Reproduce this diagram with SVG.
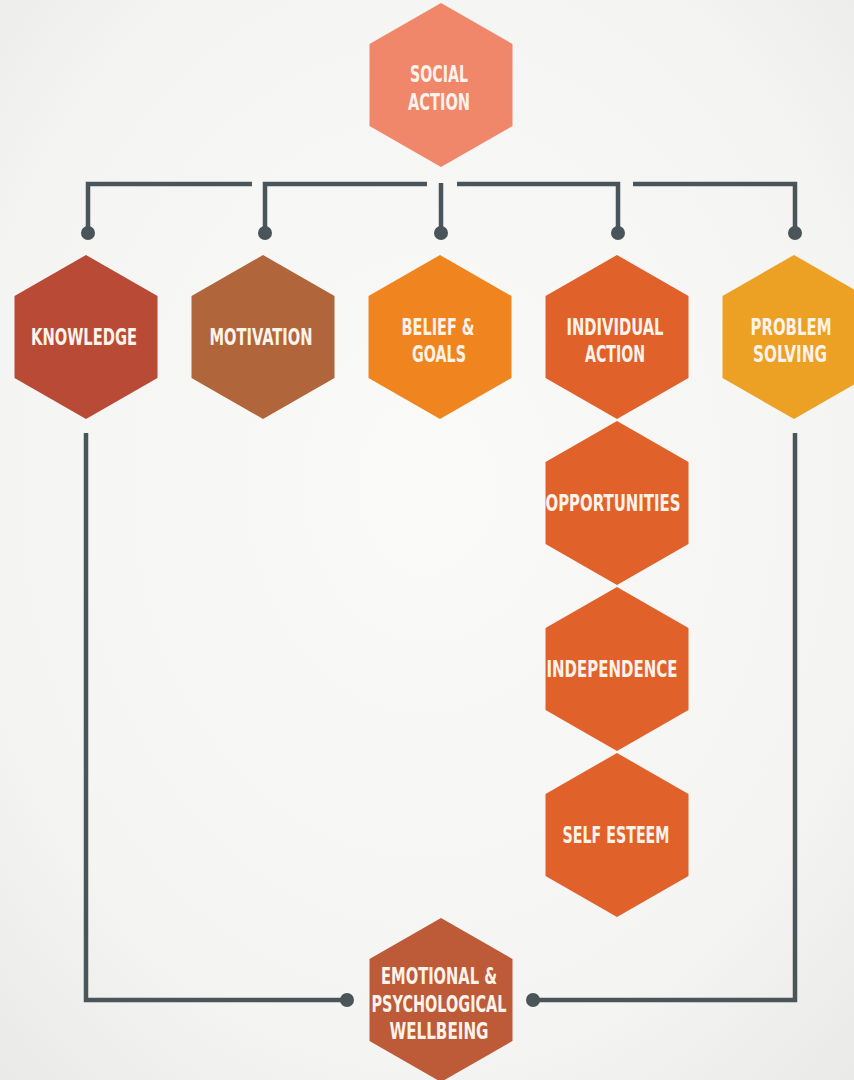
<svg xmlns="http://www.w3.org/2000/svg" xmlns:xlink="http://www.w3.org/1999/xlink" width="854" height="1080" viewBox="0 0 854 1080">
  <defs>
    <radialGradient id="bg" cx="50%" cy="45%" r="75%">
      <stop offset="0" stop-color="#fafaf9"/>
      <stop offset="0.7" stop-color="#f4f4f2"/>
      <stop offset="1" stop-color="#e9e9e7"/>
    </radialGradient>
    <!-- pointy-top hexagon centred on the origin -->
    <polygon id="hex" points="0,-82 71.5,-41 71.5,41 0,82 -71.5,41 -71.5,-41"/>
  </defs>
  <style>
    .lbl { font-family: "Liberation Sans Narrow", "DejaVu Sans Condensed", "Liberation Sans", sans-serif; font-weight: bold; font-size: 23px; fill: #fdf3ea; text-anchor: middle; }
    .wire { fill: none; stroke: #4a5559; stroke-width: 4.5; stroke-linejoin: miter; stroke-linecap: butt; }
    .dot { fill: #4a5559; }
  </style>

  <rect width="854" height="1080" fill="url(#bg)"/>

  <!-- connectors -->
  <g id="connectors">
    <path class="wire" d="M88,233 V184 H252"/>
    <path class="wire" d="M265,233 V184 H427"/>
    <path class="wire" d="M441,183 V233"/>
    <path class="wire" d="M457,184 H618 V233"/>
    <path class="wire" d="M633,184 H795 V233"/>
    <circle class="dot" cx="88" cy="233" r="7"/>
    <circle class="dot" cx="265" cy="233" r="7"/>
    <circle class="dot" cx="441" cy="233" r="7"/>
    <circle class="dot" cx="618" cy="233" r="7"/>
    <circle class="dot" cx="795" cy="233" r="7"/>
    <path class="wire" d="M86,433 V1000 H347"/>
    <path class="wire" d="M795,433 V1000 H533"/>
    <circle class="dot" cx="347" cy="1000" r="7"/>
    <circle class="dot" cx="533" cy="1000" r="7"/>
  </g>

  <g id="social-action">
    <use xlink:href="#hex" x="441" y="85" fill="#f0876a"/>
    <text class="lbl" x="439" y="81.5" textLength="58" lengthAdjust="spacingAndGlyphs">SOCIAL</text>
    <text class="lbl" x="439" y="109.5" textLength="62" lengthAdjust="spacingAndGlyphs">ACTION</text>
  </g>

  <g id="knowledge">
    <use xlink:href="#hex" x="86" y="337" fill="#b94a36"/>
    <text class="lbl" x="84" y="344.5" textLength="106" lengthAdjust="spacingAndGlyphs">KNOWLEDGE</text>
  </g>

  <g id="motivation">
    <use xlink:href="#hex" x="263" y="337" fill="#b0653a"/>
    <text class="lbl" x="261" y="344.5" textLength="103" lengthAdjust="spacingAndGlyphs">MOTIVATION</text>
  </g>

  <g id="belief-goals">
    <use xlink:href="#hex" x="440" y="337" fill="#f0851f"/>
    <text class="lbl" x="438" y="334.5" textLength="73" lengthAdjust="spacingAndGlyphs">BELIEF &amp;</text>
    <text class="lbl" x="439" y="361.5" textLength="54" lengthAdjust="spacingAndGlyphs">GOALS</text>
  </g>

  <g id="individual-action">
    <use xlink:href="#hex" x="617" y="337" fill="#e0622a"/>
    <text class="lbl" x="615" y="334.5" textLength="97" lengthAdjust="spacingAndGlyphs">INDIVIDUAL</text>
    <text class="lbl" x="615" y="361.5" textLength="60" lengthAdjust="spacingAndGlyphs">ACTION</text>
  </g>

  <g id="problem-solving">
    <use xlink:href="#hex" x="794" y="337" fill="#eca024"/>
    <text class="lbl" x="791" y="334.5" textLength="81" lengthAdjust="spacingAndGlyphs">PROBLEM</text>
    <text class="lbl" x="790" y="361.5" textLength="74" lengthAdjust="spacingAndGlyphs">SOLVING</text>
  </g>

  <g id="opportunities">
    <use xlink:href="#hex" x="617" y="503" fill="#e0622a"/>
    <text class="lbl" x="613" y="510.5" textLength="135" lengthAdjust="spacingAndGlyphs">OPPORTUNITIES</text>
  </g>

  <g id="independence">
    <use xlink:href="#hex" x="617" y="669" fill="#e0622a"/>
    <text class="lbl" x="612" y="677" textLength="131" lengthAdjust="spacingAndGlyphs">INDEPENDENCE</text>
  </g>

  <g id="self-esteem">
    <use xlink:href="#hex" x="617" y="835" fill="#e0622a"/>
    <text class="lbl" x="616" y="843" textLength="107" lengthAdjust="spacingAndGlyphs">SELF ESTEEM</text>
  </g>

  <g id="emotional-wellbeing">
    <use xlink:href="#hex" x="441" y="1000" fill="#bd5a37"/>
    <text class="lbl" x="439" y="983.5" textLength="116" lengthAdjust="spacingAndGlyphs">EMOTIONAL &amp;</text>
    <text class="lbl" x="439" y="1011.5" textLength="135" lengthAdjust="spacingAndGlyphs">PSYCHOLOGICAL</text>
    <text class="lbl" x="439" y="1038.5" textLength="99" lengthAdjust="spacingAndGlyphs">WELLBEING</text>
  </g>
</svg>
